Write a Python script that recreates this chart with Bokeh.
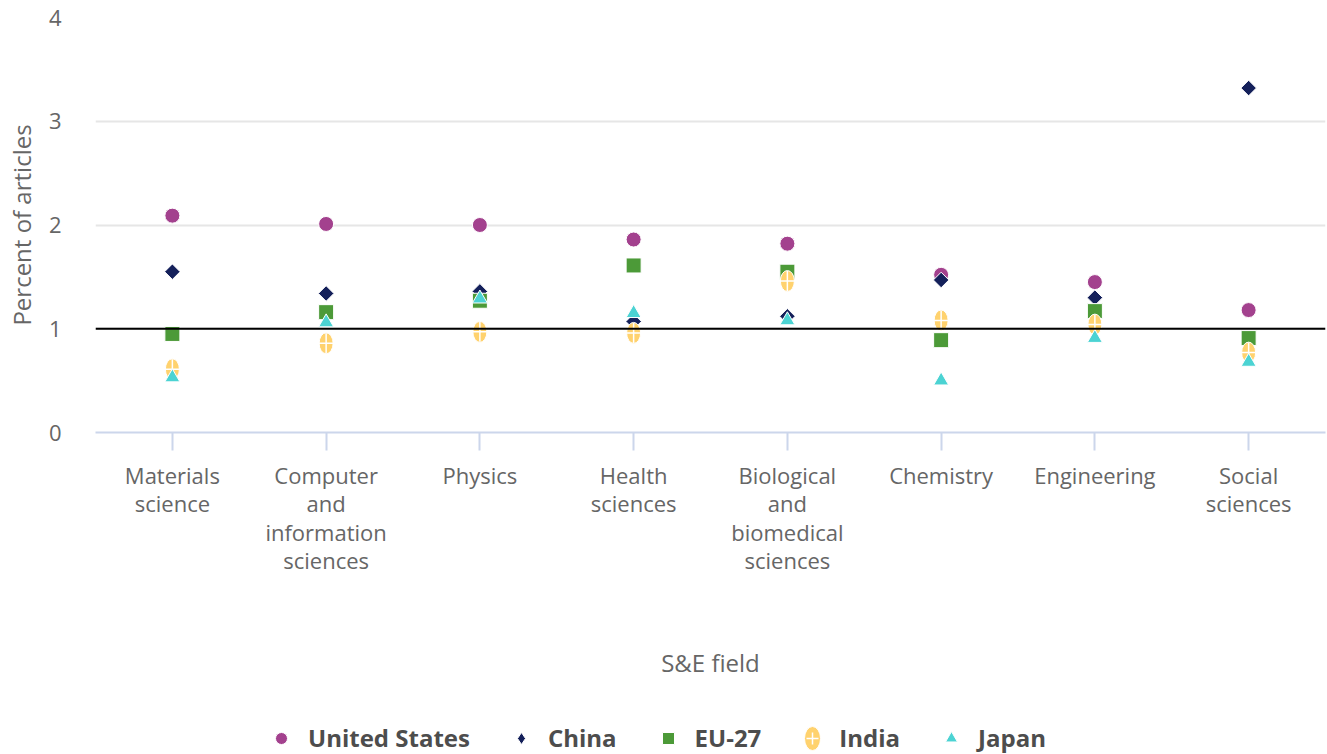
import math
from bokeh.plotting import figure
from bokeh.layouts import column
from bokeh.models import Span, Legend, LegendItem, ColumnDataSource, FactorRange
from bokeh.embed import file_html
from bokeh.resources import INLINE

fields = ["Materials\nscience", "Computer\nand\ninformation\nsciences", "Physics",
          "Health\nsciences", "Biological\nand\nbiomedical\nsciences", "Chemistry",
          "Engineering", "Social\nsciences"]
series = ["United States", "China", "EU-27", "India", "Japan"]
us    = [2.09, 2.01, 2.00, 1.86, 1.82, 1.52, 1.45, 1.18]
china = [1.55, 1.34, 1.36, 1.07, 1.12, 1.47, 1.30, 3.32]
eu27  = [0.95, 1.16, 1.27, 1.61, 1.55, 0.89, 1.17, 0.91]
india = [0.61, 0.86, 0.97, 0.96, 1.46, 1.08, 1.04, 0.77]
japan = [0.53, 1.06, 1.29, 1.15, 1.08, 0.50, 0.91, 0.68]

C_US, C_CN, C_EU, C_IN, C_JP = "#A3418E", "#14205A", "#4C9A38", "#FFD26E", "#4BD3D3"
FONT = "Open Sans"
TXT = "#666666"

p = figure(x_range=FactorRange(*fields), y_range=(0, 4),
           frame_width=1230, frame_height=415,
           output_backend="svg", toolbar_location=None,
           min_border_left=95, min_border_right=2, min_border_top=17, min_border_bottom=285)
p.outline_line_color = None

src = ColumnDataSource(dict(x=fields, us=us, china=china, eu=eu27, india=india, japan=japan))
cols = ["us", "china", "eu", "india", "japan"]


def draw(fig, for_legend=False):
    rs = []
    rs.append([fig.scatter("x", cols[0], source=src, marker="circle", size=15, fill_color=C_US,
                           line_color="white", line_width=1)])
    if for_legend:
        rs.append([fig.scatter("x", cols[1], source=src, marker="diamond", size=15,
                               fill_color=C_CN, line_color="white", line_width=1)])
    else:
        rs.append([fig.scatter("x", cols[1], source=src, marker="square", angle=math.pi / 4, size=11,
                               fill_color=C_CN, line_color="white", line_width=1)])
    rs.append([fig.scatter("x", cols[2], source=src, marker="square", size=15, fill_color=C_EU,
                           line_color="white", line_width=1)])
    rs.append([fig.ellipse("x", cols[3], source=src, width=14, height=21, width_units="screen",
                           height_units="screen", fill_color=C_IN, line_color="white", line_width=1),
               fig.scatter("x", cols[3], source=src, marker="cross", size=20, line_color="white",
                           line_width=1.5)])
    rs.append([fig.scatter("x", cols[4], source=src, marker="triangle", size=15, fill_color=C_JP,
                           line_color="white", line_width=1)])
    return rs


draw(p)

p.renderers.insert(0, Span(location=1, dimension="width", line_color="black", line_width=2))

p.xgrid.grid_line_color = None
p.ygrid.grid_line_color = "#e6e6e6"
p.ygrid.grid_line_width = 2
p.yaxis.ticker = [0, 1, 2, 3, 4]

p.yaxis.axis_line_color = None
p.yaxis.major_tick_line_color = None
p.yaxis.minor_tick_line_color = None
p.yaxis.major_label_text_font = FONT
p.yaxis.major_label_text_font_size = "22px"
p.yaxis.major_label_text_color = TXT
p.yaxis.major_label_standoff = 28
p.yaxis.axis_label = "Percent of articles"
p.yaxis.axis_label_text_font = FONT
p.yaxis.axis_label_text_font_style = "normal"
p.yaxis.axis_label_text_font_size = "24px"
p.yaxis.axis_label_text_color = TXT
p.yaxis.axis_label_standoff = 8

p.xaxis.axis_line_color = "#ccd6eb"
p.xaxis.axis_line_width = 2
p.xaxis.major_tick_line_color = "#ccd6eb"
p.xaxis.major_tick_line_width = 2
p.xaxis.major_tick_out = 18
p.xaxis.major_tick_in = 0
p.xaxis.major_label_text_font = FONT
p.xaxis.major_label_text_font_size = "22px"
p.xaxis.major_label_text_color = TXT
p.xaxis.major_label_text_line_height = 0.95
p.xaxis.major_label_standoff = 9
p.xaxis.major_label_orientation = "horizontal"
p.xaxis.axis_label = "S&E field"
p.xaxis.axis_label_text_font = FONT
p.xaxis.axis_label_text_font_style = "normal"
p.xaxis.axis_label_text_font_size = "24px"
p.xaxis.axis_label_text_color = TXT
p.xaxis.axis_label_standoff = 68

# legend strip below the chart (same data, plotted outside its visible range)
lf = figure(width=1327, height=37, x_range=FactorRange(*fields), y_range=(-20, -19),
            output_backend="svg", toolbar_location=None, min_border=0)
lf.axis.visible = False
lf.grid.visible = False
lf.outline_line_color = None
leg_rs = draw(lf, for_legend=True)

legend = Legend(items=[LegendItem(label=s, renderers=r) for s, r in zip(series, leg_rs)],
                orientation="horizontal", location=(171, 0))
legend.label_text_font = FONT
legend.label_text_font_style = "bold"
legend.label_text_font_size = "24px"
legend.label_text_color = "#4d4d4d"
legend.border_line_color = None
legend.background_fill_alpha = 0
legend.spacing = 36
legend.glyph_width = 30
legend.glyph_height = 30
legend.label_standoff = 12
legend.padding = 2
legend.margin = 0
lf.add_layout(legend, "center")

open("out.html", "w").write(file_html(column(p, lf, spacing=0), INLINE))
